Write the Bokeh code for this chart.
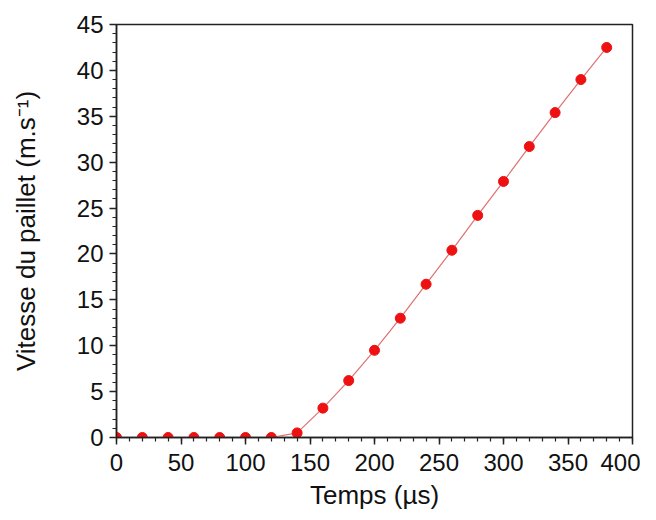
from bokeh.plotting import figure
from bokeh.models import Range1d, SingleIntervalTicker
from bokeh.embed import file_html
from bokeh.resources import INLINE

time_us = [0, 20, 40, 60, 80, 100, 120, 140, 160, 180, 200, 220, 240, 260, 280, 300, 320, 340, 360, 380]
speed = [0, 0, 0, 0, 0, 0, 0, 0.5, 3.2, 6.2, 9.5, 13.0, 16.7, 20.4, 24.2, 27.9, 31.7, 35.4, 39.0, 42.5]

x_label = "Temps (µs)"
y_label = "Vitesse du paillet (m.s⁻¹)"

p = figure(width=640, height=512, output_backend="svg", toolbar_location=None,
           x_range=Range1d(0, 400), y_range=Range1d(0, 45),
           min_border_left=116, min_border_right=8, min_border_top=24, min_border_bottom=75)

p.line(time_us, speed, line_color="#e07070", line_width=1.2)
p.scatter(time_us, speed, size=10, fill_color="#ee1111", line_color="#ee1111")

p.grid.visible = False
p.outline_line_color = "#222222"
p.outline_line_width = 1.5

font = "Liberation Sans"
for ax in (p.xaxis[0], p.yaxis[0]):
    ax.axis_line_width = 1.5
    ax.axis_line_color = "#222222"
    ax.major_tick_line_color = "#222222"
    ax.minor_tick_line_color = "#222222"
    ax.major_tick_line_width = 1.5
    ax.minor_tick_line_width = 1.2
    ax.major_tick_in = 0
    ax.major_tick_out = 7
    ax.minor_tick_in = 0
    ax.minor_tick_out = 4
    ax.major_label_text_font = font
    ax.major_label_text_font_size = "24px"
    ax.major_label_text_color = "#111111"
    ax.axis_label_text_font = font
    ax.axis_label_text_font_size = "26px"
    ax.axis_label_text_font_style = "normal"
    ax.axis_label_text_color = "#111111"

p.xaxis[0].ticker = SingleIntervalTicker(interval=50, num_minor_ticks=5)
p.yaxis[0].ticker = SingleIntervalTicker(interval=5, num_minor_ticks=5)
p.xaxis[0].axis_label = x_label
p.yaxis[0].axis_label = y_label
p.xaxis[0].major_label_standoff = 9
p.xaxis[0].axis_label_standoff = 6
p.yaxis[0].major_label_standoff = 6
p.yaxis[0].axis_label_standoff = 33

open("out.html", "w").write(file_html(p, INLINE))
